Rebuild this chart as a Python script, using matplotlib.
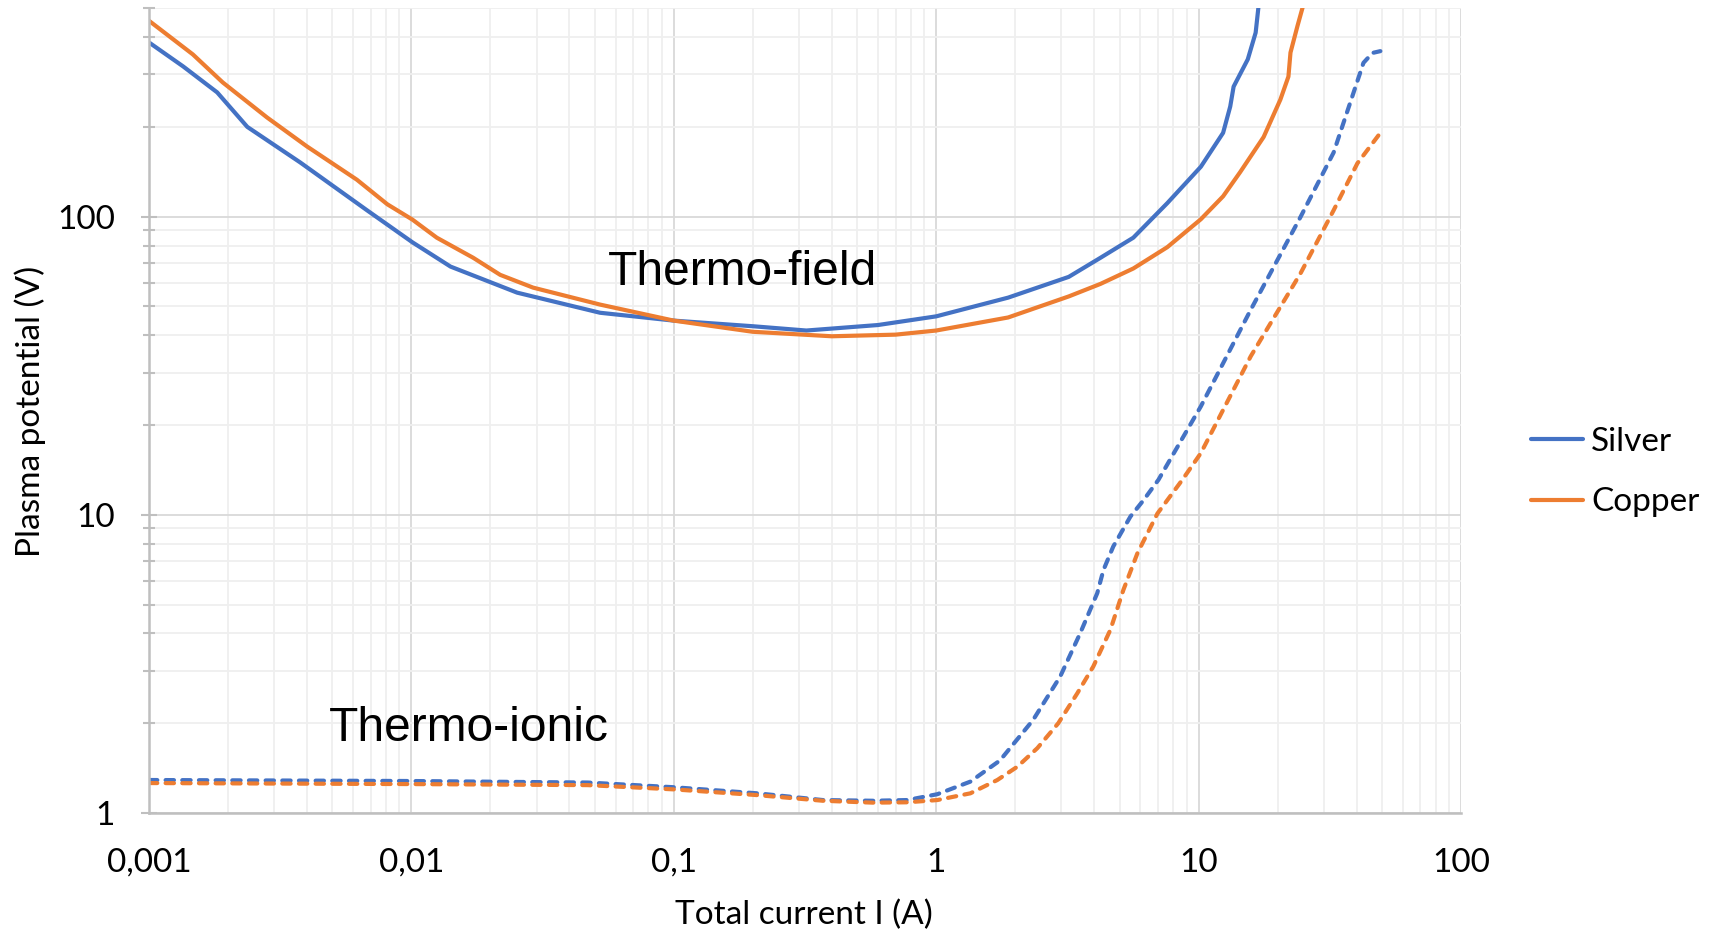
import numpy as np
import matplotlib.pyplot as plt
from matplotlib.ticker import FixedLocator, LogLocator, NullFormatter

# thermo-field (solid) curves
silver_tf_i = [0.001, 0.00135, 0.00182, 0.00237, 0.00377, 0.00678, 0.0101, 0.0141, 0.0253,
               0.0524, 0.1, 0.2, 0.32, 0.6, 1.0, 1.88, 3.2, 4.23, 5.64, 7.6, 10.2, 12.4,
               13.2, 13.6, 15.4, 16.5, 16.9]
silver_tf_v = [384, 319, 261, 200, 152, 105, 82, 68, 55.6,
               47.6, 44.8, 42.9, 41.5, 43.3, 46.3, 53.5, 62.8, 72.8, 85, 111, 147, 191,
               234, 273, 337, 414, 502]

copper_tf_i = [0.001, 0.00147, 0.00191, 0.00282, 0.004, 0.0062, 0.0081, 0.0101, 0.0125,
               0.0172, 0.0218, 0.0291, 0.0524, 0.1, 0.2, 0.4, 0.7, 1.0, 1.88, 3.2, 4.23,
               5.64, 7.6, 10.2, 12.4, 14.4, 17.7, 20.5, 22.0, 22.4, 23.8, 24.9]
copper_tf_v = [454, 350, 282, 215, 172, 133, 110, 97.7, 85,
               72.8, 63.8, 57.8, 50.7, 44.8, 41.1, 39.7, 40.2, 41.5, 45.9, 54, 59.5,
               67, 79, 98, 117, 141, 185, 247, 295, 355, 435, 502]

# thermo-ionic (dashed) curves
silver_ti_i = [0.001, 0.01, 0.047, 0.1, 0.208, 0.37, 0.575, 0.776, 1.01, 1.35, 1.75, 2.34,
               2.97, 3.54, 4.11, 4.34, 4.73, 5.5, 6.17, 7.03, 10.2, 15.8, 24.5, 32.7,
               42.5, 46, 49.3]
silver_ti_v = [1.29, 1.28, 1.265, 1.22, 1.164, 1.105, 1.099, 1.105, 1.156, 1.274, 1.5, 2.05,
               2.87, 4.01, 5.46, 6.53, 7.83, 9.87, 11.2, 13.1, 23.1, 48.7, 100, 164,
               328, 354, 359]

copper_ti_i = [0.001, 0.01, 0.047, 0.1, 0.208, 0.37, 0.575, 0.776, 1.01, 1.35, 1.71, 2.04,
               2.43, 2.92, 3.45, 3.97, 4.61, 5.17, 5.85, 6.97, 8.67, 10.2, 15.8, 24.5,
               32.7, 40.3, 49.3]
copper_ti_v = [1.26, 1.25, 1.24, 1.20, 1.148, 1.099, 1.083, 1.086, 1.105, 1.164, 1.29, 1.43,
               1.65, 2.0, 2.52, 3.10, 4.11, 5.6, 7.44, 10.1, 13.1, 16.1, 34, 64.7,
               105, 151, 191]

x_ticks = [0.001, 0.01, 0.1, 1, 10, 100]
x_labels = ['0,001', '0,01', '0,1', '1', '10', '100']
y_ticks = [1, 10, 100]
y_labels = ['1', '10', '100']

blue = '#4472C4'
orange = '#ED7D31'

plt.rcParams['font.family'] = ['Lato', 'DejaVu Sans']
fs = 24

fig = plt.figure(figsize=(17.18, 9.35), dpi=100)
ax = fig.add_axes([0.0867, 0.1305, 0.7637, 0.8607])
ax.set_xscale('log')
ax.set_yscale('log')

l1, = ax.plot(silver_tf_i, silver_tf_v, color=blue, lw=3.0, label='Silver',
              solid_capstyle='round', solid_joinstyle='round')
l2, = ax.plot(copper_tf_i, copper_tf_v, color=orange, lw=3.0, label='Copper',
              solid_capstyle='round', solid_joinstyle='round')
ax.plot(silver_ti_i, silver_ti_v, color=blue, lw=3.0, ls=(0, (2.0, 2.0)),
        dash_capstyle='round')
ax.plot(copper_ti_i, copper_ti_v, color=orange, lw=3.0, ls=(0, (2.0, 2.0)),
        dash_capstyle='round')

ax.set_xlim(0.001, 100)
ax.set_ylim(1, 500)

ax.xaxis.set_major_locator(FixedLocator(x_ticks))
ax.set_xticklabels(x_labels)
ax.yaxis.set_major_locator(FixedLocator(y_ticks))
ax.set_yticklabels(y_labels)
ax.xaxis.set_minor_locator(LogLocator(base=10, subs=np.arange(2, 10), numticks=20))
ax.yaxis.set_minor_locator(LogLocator(base=10, subs=np.arange(2, 10), numticks=20))
ax.xaxis.set_minor_formatter(NullFormatter())
ax.yaxis.set_minor_formatter(NullFormatter())

ax.grid(which='major', color='#d9d9d9', lw=1.3)
ax.grid(which='minor', color='#efefef', lw=1.3)
ax.set_axisbelow(True)

for s in ['top', 'right']:
    ax.spines[s].set_visible(False)
for s in ['left', 'bottom']:
    ax.spines[s].set_color('#bfbfbf')
    ax.spines[s].set_linewidth(1.8)

ax.tick_params(axis='x', which='both', length=0, pad=25, labelsize=fs)
ax.tick_params(axis='y', which='major', direction='inout', length=11, width=1.5,
               color='#bfbfbf', pad=19, labelsize=fs)
ax.tick_params(axis='y', which='minor', direction='inout', length=9, width=1.5,
               color='#bfbfbf')

fig.text(804 / 1718, 1 - 915 / 935, 'Total current I (A)', ha='center', va='center',
         fontsize=fs)
fig.text(30 / 1718, 1 - 411 / 935, 'Plasma potential (V)', ha='center', va='center',
         rotation=90, fontsize=fs)

ax.text(0.056, 59, 'Thermo-field', fontsize=34.5, family='Liberation Sans', va='baseline')
ax.text(0.00485, 1.75, 'Thermo-ionic', fontsize=34.5, family='Liberation Sans', va='baseline')

fig.legend(handles=[l1, l2], loc='center left', bbox_to_anchor=(1531 / 1718, 1 - 472 / 935),
           frameon=False, fontsize=fs, handlelength=1.55, handletextpad=0.25,
           labelspacing=0.92, borderpad=0, borderaxespad=0)

fig.savefig('out.png', dpi=100)
